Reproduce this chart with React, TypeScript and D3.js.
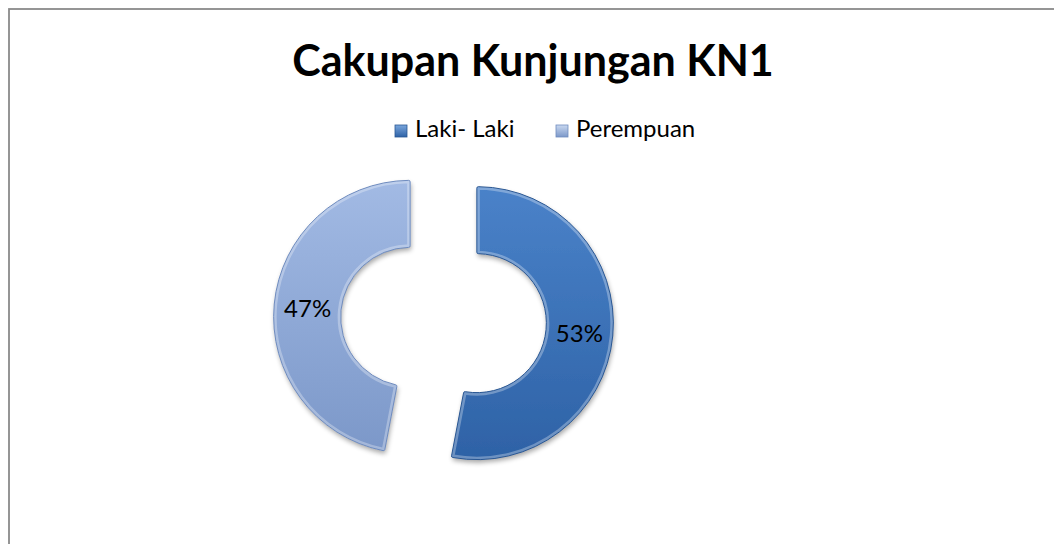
import React from "react";
import * as d3 from "d3";

const categories = ["Laki- Laki", "Perempuan"];
const values = [53, 47];
const labels = ["53%", "47%"];
const titleText = "Cakupan Kunjungan KN1";

const W = 1054;
const H = 544;
const cx = 443.5;
const cy = 320;
const outerR = 136.5;
const innerR = 69.5;
const explode = 33.5;

const colorsTop = ["#4a82c9", "#a2bae4"];
const colorsBottom = ["#2e62a6", "#7c98c9"];
const strokeColors = ["#2a5793", "#6f8cbf"];

export default function App() {
  const pie = d3
    .pie<number>()
    .sort(null)
    .startAngle(0)
    .endAngle(2 * Math.PI)
    .value((d) => d);
  const arcs = pie(values);
  const arc = d3
    .arc<d3.PieArcDatum<number>>()
    .innerRadius(innerR)
    .outerRadius(outerR)
    .cornerRadius(1.5);
  const labelArc = d3
    .arc<d3.PieArcDatum<number>>()
    .innerRadius(innerR)
    .outerRadius(outerR);

  const font = "Lato, Carlito, Calibri, 'Noto Sans', sans-serif";

  return (
    <svg
      width={W}
      height={H}
      style={{ position: "absolute", left: 0, top: 0, background: "#fff" }}
    >
      <defs>
        {arcs.map((a, i) => (
          <linearGradient key={i} id={`g${i}`} x1="0" y1="0" x2="0" y2="1">
            <stop offset="0%" stopColor={colorsTop[i]} />
            <stop offset="100%" stopColor={colorsBottom[i]} />
          </linearGradient>
        ))}
        {arcs.map((a, i) => (
          <linearGradient key={`m${i}`} id={`m${i}`} x1="0" y1="0" x2="0" y2="1">
            <stop offset="0%" stopColor={i === 0 ? "#7aa6dc" : "#c9d8f0"} />
            <stop offset="100%" stopColor={colorsBottom[i]} />
          </linearGradient>
        ))}
        {arcs.map((a, i) => (
          <clipPath key={`c${i}`} id={`c${i}`}>
            <path d={arc(a) || ""} />
          </clipPath>
        ))}
        <filter id="sh" x="-20%" y="-20%" width="140%" height="140%">
          <feGaussianBlur in="SourceAlpha" stdDeviation="2.5" />
          <feOffset dx="1" dy="3" result="b" />
          <feComponentTransfer>
            <feFuncA type="linear" slope="0.35" />
          </feComponentTransfer>
          <feMerge>
            <feMergeNode />
            <feMergeNode in="SourceGraphic" />
          </feMerge>
        </filter>
      </defs>
      <rect x={9} y={9} width={1200} height={700} fill="#fff" stroke="#8a8a8a" strokeWidth={1.8} />

      <text
        x={533}
        y={76}
        textAnchor="middle"
        fontFamily={font}
        fontWeight="bold"
        fontSize={43}
        fill="#000"
      >
        {titleText}
      </text>

      {categories.map((c, i) => {
        const x0 = i === 0 ? 395 : 556;
        return (
          <g key={c}>
            <rect
              x={x0}
              y={125}
              width={12}
              height={12}
              fill={`url(#m${i})`}
              stroke={strokeColors[i]}
              strokeWidth={0.8}
            />
            <text x={x0 + 20} y={137} fontFamily={font} fontSize={24} fill="#000">
              {c}
            </text>
          </g>
        );
      })}

      {arcs.map((a, i) => {
        const mid = (a.startAngle + a.endAngle) / 2;
        const dx = explode * Math.sin(mid);
        const dy = -explode * Math.cos(mid);
        const [lx, ly] = labelArc.centroid(a);
        return (
          <g key={i} transform={`translate(${cx + dx},${cy + dy})`}>
            <path d={arc(a) || ""} fill={`url(#g${i})`} filter="url(#sh)" />
            <path
              d={arc(a) || ""}
              fill="none"
              stroke="#ffffff"
              strokeOpacity={0.3}
              strokeWidth={6}
              clipPath={`url(#c${i})`}
            />
            <path d={arc(a) || ""} fill="none" stroke={strokeColors[i]} strokeWidth={1} />
            <text
              x={lx}
              y={ly}
              textAnchor="middle"
              dominantBaseline="central"
              fontFamily={font}
              fontSize={24}
              fill="#000"
            >
              {labels[i]}
            </text>
          </g>
        );
      })}
    </svg>
  );
}
